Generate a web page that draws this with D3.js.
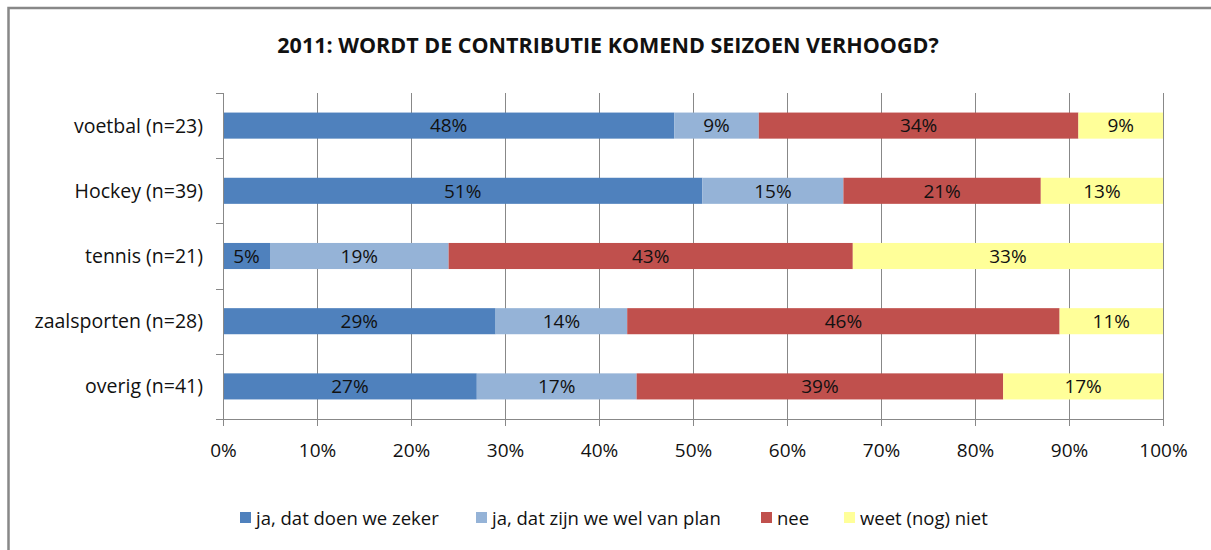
<!DOCTYPE html>
<html>
<head>
<meta charset="utf-8">
<script src="https://cdn.jsdelivr.net/npm/d3@7"></script>
<style>
  body { margin: 0; background: #fff; }
  text { font-family: "Open Sans", "Noto Sans", sans-serif; }
</style>
</head>
<body>
<div id="chart"></div>
<script>
// Data
const categories = ['voetbal (n=23)', 'Hockey (n=39)', 'tennis (n=21)', 'zaalsporten (n=28)', 'overig (n=41)']
const seriesNames = ['ja, dat doen we zeker', 'ja, dat zijn we wel van plan', 'nee', 'weet (nog) niet']
const zeker = [48, 51, 5, 29, 27]
const vanPlan = [9, 15, 19, 14, 17]
const nee = [34, 21, 43, 46, 39]
const weetNiet = [9, 13, 33, 11, 17]
const xTicks = [0, 10, 20, 30, 40, 50, 60, 70, 80, 90, 100]
const colors = ['#4F81BD', '#95B3D7', '#C0504D', '#FFFF99']

// Constants
const width = 1211
const height = 550
const margin = { top: 93, right: 48, bottom: 131, left: 223 }
const graphWidth = width - margin.left - margin.right
const graphHeight = height - margin.top - margin.bottom

const svg = d3.select('#chart')
    .append('svg')
    .attr('width', width)
    .attr('height', height)

// outer frame (runs off the right and bottom edge)
svg.append('rect')
    .attr('x', 8.5)
    .attr('y', 8)
    .attr('width', 1400)
    .attr('height', 700)
    .attr('fill', 'none')
    .attr('stroke', '#888')
    .attr('stroke-width', 2.5)

svg.append('text')
    .attr('x', 608)
    .attr('y', 53)
    .attr('text-anchor', 'middle')
    .style('font-size', '21.5px')
    .style('font-weight', 'bold')
    .attr('fill', '#111')
    .text('2011: WORDT DE CONTRIBUTIE KOMEND SEIZOEN VERHOOGD?')

const g = svg.append('g')
    .attr('transform', `translate(${margin.left}, ${margin.top})`)

// Build table for stack
const table = categories.map((c, i) => ({
    cat: c,
    [seriesNames[0]]: zeker[i],
    [seriesNames[1]]: vanPlan[i],
    [seriesNames[2]]: nee[i],
    [seriesNames[3]]: weetNiet[i]
}))
const stacked = d3.stack().keys(seriesNames)(table)

// Scales
const x = d3.scaleLinear().domain([0, 100]).range([0, graphWidth])
const y = d3.scaleBand().domain(categories).range([0, graphHeight]).paddingInner(0.6).paddingOuter(0.3)
const yTicks = d3.scaleLinear().domain([0, categories.length]).range([0, graphHeight])

// grid lines
g.selectAll('.grid')
    .data(xTicks.slice(1))
    .enter()
    .append('line')
    .attr('x1', d => x(d) + 0.5)
    .attr('x2', d => x(d) + 0.5)
    .attr('y1', 0)
    .attr('y2', graphHeight)
    .attr('stroke', '#888')
    .attr('stroke-width', 1)

// bars
const layers = g.selectAll('.layer')
    .data(stacked)
    .enter()
    .append('g')
    .attr('fill', (d, i) => colors[i])

layers.selectAll('rect')
    .data(d => d)
    .enter()
    .append('rect')
    .attr('x', d => x(d[0]))
    .attr('y', d => y(d.data.cat))
    .attr('width', d => x(d[1]) - x(d[0]))
    .attr('height', y.bandwidth())

// data labels
layers.selectAll('text')
    .data(d => d)
    .enter()
    .append('text')
    .attr('x', d => (x(d[0]) + x(d[1])) / 2)
    .attr('y', d => y(d.data.cat) + y.bandwidth() / 2)
    .attr('dy', '0.36em')
    .attr('text-anchor', 'middle')
    .attr('fill', '#111')
    .style('font-size', '19px')
    .text(d => (d[1] - d[0]) + '%')

// x axis
const xAxis = d3.axisBottom(x)
    .tickValues(xTicks)
    .tickFormat(d => d + '%')
    .tickSizeInner(7)
    .tickSizeOuter(0)
    .tickPadding(18)
const xAxisGroup = g.append('g')
    .attr('transform', `translate(0, ${graphHeight})`)
    .call(xAxis)
xAxisGroup.selectAll('line').attr('stroke', '#888')
xAxisGroup.select('.domain').attr('stroke', '#888')
xAxisGroup.selectAll('text')
    .style('font-size', '19px')
    .style('font-family', '"Open Sans", sans-serif')
    .attr('fill', '#111')

// y axis: line with tick marks between categories
const yAxisGroup = g.append('g')
yAxisGroup.append('line')
    .attr('x1', 0.5).attr('x2', 0.5)
    .attr('y1', 0).attr('y2', graphHeight)
    .attr('stroke', '#888')
yAxisGroup.selectAll('.ytick')
    .data(d3.range(categories.length + 1))
    .enter()
    .append('line')
    .attr('x1', -7).attr('x2', 0)
    .attr('y1', d => Math.round(yTicks(d)) + 0.5)
    .attr('y2', d => Math.round(yTicks(d)) + 0.5)
    .attr('stroke', '#888')
yAxisGroup.selectAll('.ylabel')
    .data(categories)
    .enter()
    .append('text')
    .attr('x', -20)
    .attr('y', d => y(d) + y.bandwidth() / 2)
    .attr('dy', '0.36em')
    .attr('text-anchor', 'end')
    .attr('fill', '#111')
    .style('font-size', '19.5px')
    .text(d => d)

// legend
const legendX = [240, 476, 761, 844]
const legend = svg.append('g')
    .selectAll('g')
    .data(seriesNames)
    .enter()
    .append('g')
    .attr('transform', (d, i) => `translate(${legendX[i]}, 512)`)
legend.append('rect')
    .attr('width', 11)
    .attr('height', 11)
    .attr('fill', (d, i) => colors[i])
legend.append('text')
    .attr('x', 16)
    .attr('y', 6)
    .attr('dy', '0.36em')
    .attr('fill', '#111')
    .style('font-size', '18.5px')
    .text(d => d)
</script>
</body>
</html>
